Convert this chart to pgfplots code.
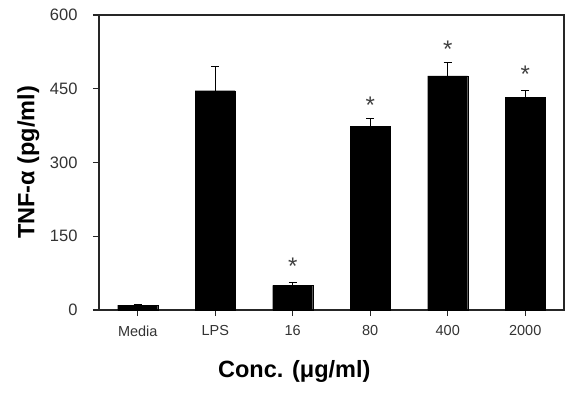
\documentclass[border=0pt]{standalone}
\usepackage{pgfplots}
\pgfplotsset{compat=1.18}
\usepackage{pgfplotstable}
\usepackage{fontspec}
\setmainfont{Liberation Sans}

\pgfplotstableread{
x y e
0 10 0
1 446 49
2 50 6
3 373 17
4 476 28
5 433 13
}\bars

\pgfplotstableread{
x y
2 100
3 427
4 541
5 490
}\stars

\begin{document}
\begin{tikzpicture}
\begin{axis}[
  at={(0,0)}, anchor=south west,
  scale only axis, width=465bp, height=295bp,
  xmin=-0.5, xmax=5.5, ymin=0, ymax=600,
  xtick={0,1,2,3,4,5},
  xticklabels={Media,LPS,16,80,400,2000},
  ytick={0,150,300,450,600},
  xtick pos=left, ytick pos=left,
  tick align=outside, major tick length=6bp,
  axis line style={line width=1.1bp, black!85},
  tick style={line width=1.1bp, black!85},
  /pgf/number format/assume math mode=true,
  yticklabel style={font=\fontsize{16.5bp}{19bp}\selectfont, text=black!80, xshift=-12bp},
  xticklabel style={font=\fontsize{14.5bp}{17bp}\selectfont, text=black!80, yshift=-6bp},
  xlabel={Conc. (μg/ml)},
  ylabel={TNF-α (pg/ml)},
  label style={font=\fontsize{23.5bp}{26bp}\selectfont\bfseries},
  xlabel style={at={(axis description cs:0.42,-0.21)}, anchor=center},
  ylabel style={at={(axis description cs:-0.152,0.5)}, anchor=center},
]
\addplot[ybar, bar width=40bp, fill=black, draw=black,
  error bars/.cd, y dir=plus, y explicit,
  error bar style={line width=1.3bp, black},
  error mark options={rotate=90, mark size=4bp, line width=1.3bp, black}]
  table[x=x, y=y, y error=e] {\bars};
\addplot[draw=none, mark=none,
  nodes near coords={*},
  nodes near coords style={anchor=center, yshift=-5bp, text=black!75,
    font=\fontsize{24bp}{26bp}\selectfont}]
  table[x=x, y=y] {\stars};
\end{axis}
\pgfresetboundingbox
\path[use as bounding box] (-99bp,-95bp) rectangle (481bp,310bp);
\end{tikzpicture}
\end{document}
